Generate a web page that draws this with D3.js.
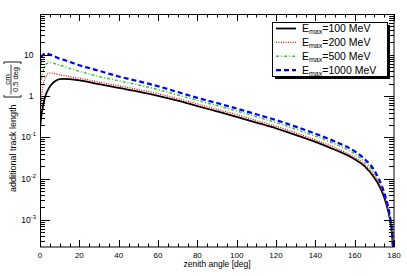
<!DOCTYPE html>
<html>
<head>
<meta charset="utf-8">
<script src="https://cdn.jsdelivr.net/npm/d3@7/dist/d3.min.js"></script>
<style>
  html, body { margin: 0; padding: 0; background: #fff; }
  svg { display: block; font-family: "Liberation Sans", Arial, sans-serif; }
</style>
</head>
<body>
<div id="chart"></div>
<script>
// zenith angle [deg] at which the curves were read
var angles = [0, 0.5, 1, 1.5, 2, 3, 4, 5, 6, 8, 10, 12, 15, 20, 25, 30, 40, 50, 60, 70,
	80, 90, 100, 110, 120, 130, 140, 150, 160, 165, 170, 172, 174, 176, 177, 178, 179, 179.5];

var emax100 = [0.16, 0.28, 0.42, 0.56, 0.74, 1.1, 1.4, 1.7, 1.95, 2.35, 2.57, 2.63, 2.57, 2.4, 2.19, 1.95, 1.58, 1.29, 1.02, 0.78,
	0.575, 0.427, 0.316, 0.229, 0.166, 0.115, 0.078, 0.05, 0.0295, 0.02, 0.0105, 0.0074, 0.0047, 0.0025, 0.00166, 0.001, 0.00045, 0.0002];
var emax200 = [0.32, 0.63, 1.17, 1.78, 2.24, 3.0, 3.47, 3.63, 3.63, 3.47, 3.3, 3.16, 2.95, 2.7, 2.45, 2.19, 1.78, 1.45, 1.15, 0.87,
	0.645, 0.48, 0.355, 0.257, 0.186, 0.129, 0.087, 0.056, 0.033, 0.0224, 0.0117, 0.0081, 0.0051, 0.0027, 0.00178, 0.00105, 0.00047, 0.0002];
var emax500 = [1.6, 2.24, 3.16, 4.0, 4.8, 5.9, 6.3, 6.5, 6.5, 6.0, 5.6, 5.25, 4.7, 4.0, 3.47, 3.0, 2.35, 1.86, 1.45, 1.07,
	0.79, 0.59, 0.437, 0.316, 0.229, 0.158, 0.107, 0.069, 0.04, 0.026, 0.0138, 0.0093, 0.0058, 0.003, 0.00195, 0.00112, 0.0005, 0.0002];
var emax1000 = [5.6, 7.6, 9.1, 10, 10.5, 11, 10.7, 10.2, 9.8, 8.9, 8.1, 7.6, 6.8, 5.6, 4.8, 4.1, 3.0, 2.3, 1.74, 1.26,
	0.91, 0.68, 0.5, 0.363, 0.263, 0.182, 0.123, 0.079, 0.046, 0.03, 0.0158, 0.0105, 0.0063, 0.0032, 0.0021, 0.00117, 0.00052, 0.0002];

var legendLabels = ['100', '200', '500', '1000'];
var xTicks = [0, 20, 40, 60, 80, 100, 120, 140, 160, 180];
var yTicks = [1e-3, 1e-2, 1e-1, 1, 10];
var yTickBase = ['10', '10', '10', '1', '10'];
var yTickExp = ['-3', '-2', '-1', '', ''];

var series = [
	{ values: emax100, label: legendLabels[0], color: '#000000', width: 1.8, dash: null },
	{ values: emax200, label: legendLabels[1], color: '#ff0000', width: 1.3, dash: '1,1.4' },
	{ values: emax500, label: legendLabels[2], color: '#33cc33', width: 1.5, dash: '3,2,1,2' },
	{ values: emax1000, label: legendLabels[3], color: '#0000ff', width: 2.2, dash: '5,3' }
];

var fullWidth = 407;
var fullHeight = 276;
var margin = { top: 14, right: 13, bottom: 29, left: 40 };
var width = fullWidth - margin.left - margin.right;
var height = fullHeight - margin.top - margin.bottom;

var svg = d3.select('#chart')
	.append('svg')
	.attr('width', fullWidth)
	.attr('height', fullHeight);

svg.append('rect')
	.attr('width', fullWidth)
	.attr('height', fullHeight)
	.attr('fill', '#fff');

var x = d3.scaleLinear().domain([0, 180]).range([0, width]);
var y = d3.scaleLog().domain([2.2e-4, 98]).range([height, 0]);

var plot = svg.append('g')
	.attr('transform', 'translate(' + margin.left + ',' + margin.top + ')');

plot.append('clipPath')
	.attr('id', 'clip')
	.append('rect')
	.attr('width', width)
	.attr('height', height);

// curves
var line = d3.line()
	.x(function(d) { return x(d[0]); })
	.y(function(d) { return y(d[1]); })
	.curve(d3.curveMonotoneX);

var curves = plot.append('g').attr('clip-path', 'url(#clip)');
series.forEach(function(s) {
	var pts = angles.map(function(a, i) { return [a, s.values[i]]; });
	curves.append('path')
		.datum(pts)
		.attr('d', line)
		.attr('fill', 'none')
		.attr('stroke', s.color)
		.attr('stroke-width', s.width)
		.attr('stroke-dasharray', s.dash);
});

// ticks (ROOT style: inside, on all four sides)
var xMinor = d3.range(0, 181, 5);
var ticks = plot.append('g').attr('stroke', '#000').attr('stroke-width', 1);
xMinor.forEach(function(v) {
	var len = (v % 20 === 0) ? 7 : 3.5;
	var px = Math.round(x(v)) + 0.5;
	ticks.append('line').attr('x1', px).attr('x2', px).attr('y1', height).attr('y2', height - len);
	ticks.append('line').attr('x1', px).attr('x2', px).attr('y1', 0).attr('y2', len);
});

var yMinor = y.ticks();
yMinor.forEach(function(v) {
	var major = yTicks.some(function(t) { return Math.abs(t - v) / t < 1e-6; });
	var len = major ? 10 : 5;
	var py = Math.round(y(v)) + 0.5;
	ticks.append('line').attr('x1', 0).attr('x2', len).attr('y1', py).attr('y2', py);
	ticks.append('line').attr('x1', width).attr('x2', width - len).attr('y1', py).attr('y2', py);
});

// frame
plot.append('rect')
	.attr('x', 0.5)
	.attr('y', 0.5)
	.attr('width', width - 0.5)
	.attr('height', height - 0.5)
	.attr('fill', 'none')
	.attr('stroke', '#000')
	.attr('stroke-width', 1);

// x tick labels
plot.selectAll('.xlab')
	.data(xTicks)
	.enter().append('text')
	.attr('x', function(d) { return x(d); })
	.attr('y', height + 10.5)
	.attr('text-anchor', 'middle')
	.attr('font-size', 8)
	.text(function(d) { return d; });

// y tick labels
yTicks.forEach(function(v, i) {
	var t = plot.append('text')
		.attr('y', y(v) + 3)
		.attr('font-size', 8.5)
		.attr('text-anchor', 'end');
	if (yTickExp[i]) {
		t.attr('x', -4);
		t.append('tspan').text(yTickBase[i]);
		t.append('tspan').attr('font-size', 6).attr('dy', -4).text(yTickExp[i]);
	} else {
		t.attr('x', -6.5).text(yTickBase[i]);
	}
});

// x title
svg.append('text')
	.attr('x', margin.left + width / 2)
	.attr('y', 267)
	.attr('text-anchor', 'middle')
	.attr('font-size', 8.5)
	.text('zenith angle [deg]');

// y title with fraction
var yt = svg.append('g').attr('transform', 'translate(16,130) rotate(-90)');
yt.append('text')
	.attr('x', -62)
	.attr('y', 0)
	.attr('font-size', 9)
	.text('additional track length');
yt.append('path')
	.attr('d', 'M35,-12 L33,-12 L33,5 L35,5 M66,-12 L68,-12 L68,5 L66,5')
	.attr('fill', 'none')
	.attr('stroke', '#000')
	.attr('stroke-width', 0.9);
yt.append('text')
	.attr('x', 50.5)
	.attr('y', -6.5)
	.attr('text-anchor', 'middle')
	.attr('font-size', 8)
	.text('cm');
yt.append('line')
	.attr('x1', 35.5).attr('x2', 65.5)
	.attr('y1', -5).attr('y2', -5)
	.attr('stroke', '#000')
	.attr('stroke-width', 0.7);
yt.append('text')
	.attr('x', 50.5)
	.attr('y', 2)
	.attr('text-anchor', 'middle')
	.attr('font-size', 7.5)
	.text('0.5 deg');

// legend
var lg = svg.append('g').attr('transform', 'translate(272,22)');
lg.append('rect').attr('x', 3).attr('y', 3).attr('width', 115).attr('height', 54).attr('fill', '#000');
lg.append('rect').attr('x', 0.5).attr('y', 0.5).attr('width', 115).attr('height', 54)
	.attr('fill', '#fff').attr('stroke', '#000').attr('stroke-width', 1);
series.forEach(function(s, i) {
	var cy = 6.5 + i * 13.9;
	lg.append('line')
		.attr('x1', 4).attr('x2', 24)
		.attr('y1', cy).attr('y2', cy)
		.attr('stroke', s.color)
		.attr('stroke-width', s.width)
		.attr('stroke-dasharray', s.dash);
	var t = lg.append('text')
		.attr('x', 30)
		.attr('y', cy + 3.8)
		.attr('font-size', 10.5);
	t.append('tspan').text('E');
	t.append('tspan').attr('font-size', 7).attr('dy', 2).text('max');
	t.append('tspan').attr('dy', -2).text('=' + s.label + ' MeV');
});
</script>
</body>
</html>
